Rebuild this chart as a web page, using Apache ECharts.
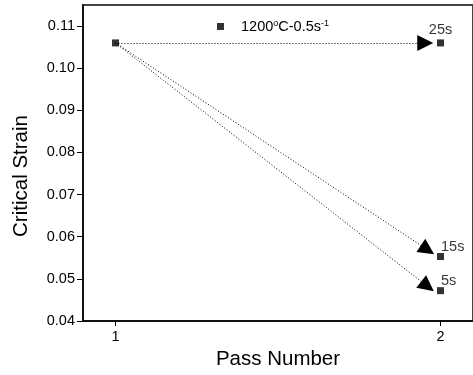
<!DOCTYPE html>
<html>
<head>
<meta charset="utf-8">
<script src="https://cdn.jsdelivr.net/npm/echarts@6/dist/echarts.min.js"></script>
<style>html,body{margin:0;padding:0;background:#fff}#c{width:473px;height:375px}</style>
</head>
<body>
<div id="c"></div>
<script>
// Data
const seriesName = '1200°C-0.5s-1';
const passNumbers = [1, 2, 2, 2];
const criticalStrain = [0.106, 0.106, 0.0553, 0.0472];
const pointLabels = ['', '25s', '15s', '5s'];
const xTicks = [1, 2];
const yTicks = [0.04, 0.05, 0.06, 0.07, 0.08, 0.09, 0.10, 0.11];
// arrows: start and end (end = arrowhead position)
const arrowStarts = [[1, 0.106], [1, 0.106], [1, 0.106]];
const arrowEnds = [[1.953, 0.106], [1.96, 0.0569], [1.96, 0.0482]];

const FONT = 'Liberation Sans, Arial, sans-serif';
const chart = echarts.init(document.getElementById('c'));

const labelCfg = {
  '25s': {show: true, position: 'top', distance: 2},
  '15s': {show: true, position: 'right', distance: 0, offset: [-3, -10]},
  '5s': {show: true, position: 'right', distance: 0, offset: [-3, -10]}
};

const data = passNumbers.map((x, i) => {
  const item = {value: [x, criticalStrain[i]]};
  if (pointLabels[i]) {
    item.label = Object.assign({formatter: pointLabels[i], color: '#000', fontSize: 14.5, fontFamily: FONT}, labelCfg[pointLabels[i]]);
  }
  return item;
});

chart.setOption({
  animation: false,
  grid: {left: 83, right: -2, top: 5, bottom: 54, show: true, borderColor: '#444', borderWidth: 2},
  legend: {
    data: [seriesName],
    left: 212, top: 14,
    icon: 'rect', itemWidth: 7, itemHeight: 7,
    formatter: () => '1200{sup|o}C-0.5s{sup|-1}',
    textStyle: {
      fontFamily: FONT, fontSize: 14.5, color: '#000', padding: [0, 0, 0, 12],
      rich: {sup: {fontSize: 9, fontFamily: FONT, color: '#000', verticalAlign: 'top', padding: [0, 0, 6, 0]}}
    },
    itemStyle: {color: '#000'}
  },
  xAxis: {
    type: 'value', min: 0.9, max: 2.1,
    name: 'Pass Number', nameLocation: 'middle', nameGap: 27,
    nameTextStyle: {fontFamily: FONT, fontSize: 20.5, color: '#000'},
    splitLine: {show: false},
    axisLine: {lineStyle: {color: '#000', width: 1.5}},
    axisTick: {show: true, length: 5, customValues: xTicks, lineStyle: {color: '#000'}},
    axisLabel: {customValues: xTicks, fontFamily: FONT, fontSize: 14.5, color: '#000', margin: 8}
  },
  yAxis: {
    type: 'value', min: 0.04, max: 0.115,
    name: 'Critical Strain', nameLocation: 'middle', nameGap: 51,
    nameTextStyle: {fontFamily: FONT, fontSize: 20.5, color: '#000', padding: [0, 26, 0, 0]},
    splitLine: {show: false},
    axisLine: {lineStyle: {color: '#000', width: 1.5}},
    axisTick: {show: true, length: 6, customValues: yTicks, lineStyle: {color: '#000'}},
    axisLabel: {customValues: yTicks, fontFamily: FONT, fontSize: 14.5, color: '#000', margin: 8,
      formatter: v => v.toFixed(2)}
  },
  series: [{
    name: seriesName,
    type: 'scatter',
    symbol: 'rect', symbolSize: 7,
    itemStyle: {color: '#000'},
    data: data,
    markLine: {
      silent: true,
      symbol: ['none', 'triangle'],
      symbolSize: 16,
      label: {show: false},
      lineStyle: {type: [1, 2], color: '#000', width: 1},
      itemStyle: {color: '#000'},
      data: arrowStarts.map((s, i) => [{coord: s}, {coord: arrowEnds[i]}])
    }
  }]
});
</script>
</body>
</html>
